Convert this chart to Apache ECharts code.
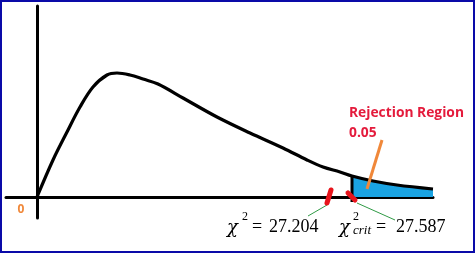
<!DOCTYPE html>
<html><head><meta charset="utf-8">
<script src="https://cdn.jsdelivr.net/npm/echarts@6/dist/echarts.min.js"></script>
<style>html,body{margin:0;padding:0;background:#fff}#c{width:476px;height:255px}</style>
</head><body><div id="c"></div>
<script>
// Density curve (abstract units)
const curveX = [0, 1.6, 3.0, 4.3, 5.6, 7.0, 8.0, 9.3, 10.6, 12.1, 14.6, 18.0, 21.3, 24.6, 27.0, 28.6, 30.3, 31.5, 33.6, 36.0, 39.6];
const curveY = [0, 0.037, 0.065, 0.090, 0.110, 0.122, 0.124, 0.122, 0.118, 0.113, 0.099, 0.080, 0.064, 0.049, 0.037, 0.030, 0.025, 0.021, 0.016, 0.012, 0.008];
const critX = 31.5;
const critBarY = [0.021, -0.005];
// Annotation strokes
const statMarkX = [29.4, 29.0], statMarkY = [0.007, -0.006];
const critMarkX = [31.1, 31.8], critMarkY = [0.004, -0.003];
const statLeaderX = [29.0, 27.1], statLeaderY = [-0.008, -0.019];
const critLeaderX = [32.0, 35.8], critLeaderY = [-0.006, -0.023];
const calloutX = [34.5, 33.0], calloutY = [0.057, 0.008];
// Texts
const statValue = '27.204';
const critValue = '27.587';
const regionTitle = 'Rejection Region';
const alphaText = '0.05';
const originText = '0';

const zip = (xs, ys) => xs.map((x, i) => [x, ys[i]]);
const curve = zip(curveX, curveY);
const tail = curve.filter(p => p[0] >= critX);

function seg(xs, ys, color, width, cap) {
  return {
    type: 'line', data: zip(xs, ys), symbol: 'none', clip: false, silent: true,
    lineStyle: { color: color, width: width, cap: cap || 'butt' }, z: 5
  };
}

const chart = echarts.init(document.getElementById('c'), null, { renderer: 'canvas' });
const serif = 'Liberation Serif';
const txt = (x, y, text, style) => ({
  type: 'text', x: x, y: y, z: 20,
  style: Object.assign({ text: text, fill: '#000', fontFamily: serif, fontSize: 18, textAlign: 'left', textVerticalAlign: 'middle' }, style)
});

chart.setOption({
  animation: false,
  grid: { left: 6, top: 6, width: 427, height: 212, containLabel: false },
  xAxis: {
    type: 'value', min: -3.1, max: 39.6,
    axisLine: { show: true, onZero: true, lineStyle: { color: '#000', width: 3 } },
    axisTick: { show: false }, axisLabel: { show: false }, splitLine: { show: false }
  },
  yAxis: {
    type: 'value', min: -0.021, max: 0.191,
    axisLine: { show: true, onZero: true, lineStyle: { color: '#000', width: 3 } },
    axisTick: { show: false }, axisLabel: { show: false }, splitLine: { show: false }
  },
  series: [
    {
      type: 'line', data: tail, symbol: 'none', smooth: 0.3, silent: true,
      lineStyle: { width: 0, opacity: 0 },
      areaStyle: { color: '#1aa3e2', opacity: 1 }, z: 2
    },
    {
      type: 'line', data: curve, symbol: 'none', smooth: 0.35, silent: true, clip: false,
      lineStyle: { color: '#000', width: 3.2 }, z: 4
    },
    seg([critX, critX], critBarY, '#000', 3),
    seg(statLeaderX, statLeaderY, '#2f9a45', 1),
    seg(critLeaderX, critLeaderY, '#2f9a45', 1),
    seg(statMarkX, statMarkY, '#e8141c', 5, 'round'),
    seg(critMarkX, critMarkY, '#e8141c', 5, 'round'),
    seg(calloutX, calloutY, '#f0883a', 3)
  ],
  graphic: [
    { type: 'rect', shape: { x: 1, y: 1, width: 473, height: 251 }, style: { fill: 'none', stroke: '#0a0aa8', lineWidth: 2 }, z: 30 },
    txt(21, 210, originText, { fill: '#f0883a', fontFamily: 'Open Sans', fontWeight: 'bold', fontSize: 12, textAlign: 'center' }),
    txt(349, 113, regionTitle, { fill: '#e41b3c', fontFamily: 'Open Sans', fontWeight: 'bold', fontSize: 13.8 }),
    txt(349, 133, alphaText, { fill: '#e41b3c', fontFamily: 'Open Sans', fontWeight: 'bold', fontSize: 13.8 }),
    // χ² = 27.204
    txt(227, 228, 'χ', { fontStyle: 'italic', fontFamily: 'DejaVu Serif', fontSize: 18 }),
    txt(242, 217, '2', { fontSize: 12 }),
    txt(252, 227, '=', {}),
    txt(269, 227, statValue, {}),
    // χ²_crit = 27.587
    txt(339, 228, 'χ', { fontStyle: 'italic', fontFamily: 'DejaVu Serif', fontSize: 18 }),
    txt(353, 217, '2', { fontSize: 12 }),
    txt(353, 231, 'crit', { fontSize: 13, fontStyle: 'italic' }),
    txt(376, 227, '=', {}),
    txt(396, 227, critValue, {})
  ]
});
</script></body></html>
